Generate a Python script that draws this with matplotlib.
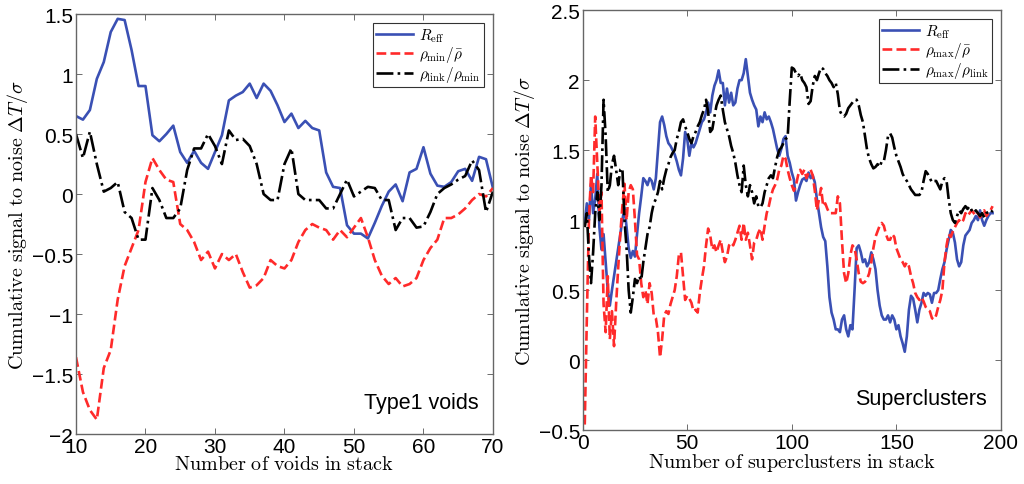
import matplotlib
matplotlib.use("Agg")
import matplotlib.pyplot as plt
from matplotlib.ticker import FuncFormatter
import numpy as np

plt.rcParams['mathtext.fontset'] = 'cm'
plt.rcParams['font.family'] = ['Liberation Sans', 'DejaVu Sans']

# ---- left panel: Type1 voids ----
void_n = list(range(10, 71))
void_reff = [0.65, 0.62, 0.70, 0.96, 1.10, 1.35, 1.46, 1.45, 1.20, 0.90,
             0.90, 0.49, 0.44, 0.50, 0.57, 0.35, 0.26, 0.36, 0.26, 0.21,
             0.35, 0.49, 0.78, 0.82, 0.85, 0.92, 0.80, 0.92, 0.86, 0.74,
             0.60, 0.67, 0.55, 0.61, 0.55, 0.53, 0.18, 0.06, 0.05, -0.26,
             -0.33, -0.33, -0.37, -0.24, -0.10, 0.02, 0.08, -0.06, 0.18, 0.21,
             0.39, 0.17, 0.07, 0.06, 0.10, 0.19, 0.21, 0.11, 0.31, 0.29,
             0.05]
void_rmin = [-1.36, -1.65, -1.80, -1.88, -1.45, -1.30, -0.88, -0.60, -0.45, -0.30,
             0.10, 0.30, 0.20, 0.12, 0.10, -0.25, -0.30, -0.40, -0.55, -0.48,
             -0.62, -0.50, -0.55, -0.50, -0.65, -0.78, -0.76, -0.70, -0.55, -0.60,
             -0.62, -0.55, -0.40, -0.30, -0.25, -0.28, -0.30, -0.38, -0.30, -0.36,
             -0.28, -0.20, -0.36, -0.55, -0.68, -0.75, -0.70, -0.77, -0.75, -0.70,
             -0.55, -0.45, -0.38, -0.20, -0.20, -0.17, -0.12, -0.05, 0.00, -0.02,
             0.05]
void_rlink = [0.50, 0.30, 0.52, 0.25, 0.02, 0.05, 0.10, -0.15, -0.20, -0.38,
              -0.38, 0.05, -0.05, -0.20, -0.20, -0.12, 0.20, 0.38, 0.38, 0.50,
              0.40, 0.25, 0.53, 0.45, 0.46, 0.40, 0.25, 0.00, -0.05, -0.05,
              0.25, 0.38, 0.00, -0.05, -0.05, -0.05, -0.12, -0.12, 0.00, 0.12,
              -0.02, 0.02, 0.06, 0.05, -0.05, -0.05, -0.30, -0.20, -0.20, -0.28,
              -0.27, -0.15, 0.00, 0.05, 0.08, 0.12, 0.15, 0.28, 0.20, -0.15,
              0.02]

# ---- right panel: Superclusters ----
sc_n = list(range(1, 197))
sc_reff = [0.98, 1.12, 1.00, 1.26, 1.05, 1.15, 1.33, 0.95, 0.79, 0.90,
           0.70, 0.50, 0.39, 0.50, 0.60, 0.70, 0.80, 0.90, 1.00, 1.09,
           0.95, 0.80, 0.73, 0.78, 0.74, 0.90, 1.05, 1.17, 1.30, 1.28,
           1.25, 1.30, 1.28, 1.22, 1.30, 1.50, 1.70, 1.74, 1.68, 1.60,
           1.55, 1.53, 1.50, 1.47, 1.42, 1.36, 1.32, 1.44, 1.63, 1.58,
           1.46, 1.55, 1.52, 1.55, 1.60, 1.65, 1.70, 1.72, 1.77, 1.84,
           1.77, 1.89, 1.96, 2.00, 2.07, 1.98, 1.98, 1.82, 1.94, 1.84,
           1.91, 1.82, 1.84, 1.94, 2.00, 2.00, 2.05, 2.15, 2.03, 1.91,
           1.86, 1.82, 1.79, 1.67, 1.74, 1.70, 1.77, 1.72, 1.74, 1.70,
           1.65, 1.58, 1.51, 1.46, 1.51, 1.58, 1.60, 1.46, 1.41, 1.34,
           1.29, 1.14, 1.20, 1.25, 1.29, 1.30, 1.28, 1.34, 1.30, 1.32,
           1.27, 1.15, 1.05, 0.95, 0.88, 0.85, 0.67, 0.45, 0.34, 0.29,
           0.22, 0.22, 0.20, 0.29, 0.32, 0.22, 0.17, 0.25, 0.22, 0.50,
           0.80, 0.82, 0.77, 0.70, 0.72, 0.67, 0.70, 0.77, 0.72, 0.65,
           0.50, 0.39, 0.32, 0.29, 0.29, 0.32, 0.27, 0.32, 0.29, 0.22,
           0.25, 0.17, 0.12, 0.06, 0.17, 0.36, 0.46, 0.44, 0.36, 0.27,
           0.36, 0.41, 0.48, 0.46, 0.48, 0.47, 0.41, 0.48, 0.48, 0.50,
           0.58, 0.65, 0.70, 0.79, 0.86, 0.93, 0.91, 0.84, 0.72, 0.67,
           0.70, 0.82, 0.89, 0.91, 0.93, 0.98, 1.00, 1.03, 1.00, 1.07,
           1.00, 0.96, 1.00, 1.03, 1.05, 1.05]
sc_rmax = [-0.46, 0.30, 1.00, 1.32, 1.20, 1.74, 1.40, 1.07, 1.20, 0.40,
           0.20, 0.60, 0.15, 0.35, 0.10, 0.40, 0.66, 0.90, 1.10, 1.26,
           1.00, 1.20, 1.25, 1.22, 1.00, 0.75, 0.72, 0.55, 0.45, 0.50,
           0.40, 0.55, 0.48, 0.32, 0.30, 0.20, 0.02, 0.15, 0.32, 0.35,
           0.33, 0.40, 0.45, 0.50, 0.60, 0.75, 0.77, 0.60, 0.43, 0.46,
           0.44, 0.41, 0.35, 0.36, 0.34, 0.48, 0.58, 0.67, 0.82, 0.94,
           0.89, 0.79, 0.82, 0.77, 0.82, 0.86, 0.77, 0.70, 0.74, 0.82,
           0.84, 0.82, 0.86, 0.91, 0.96, 0.86, 0.98, 0.86, 0.91, 0.82,
           0.72, 0.84, 0.86, 0.91, 0.94, 0.86, 0.96, 1.05, 1.10, 1.17,
           1.22, 1.25, 1.29, 1.36, 1.39, 1.46, 1.44, 1.36, 1.30, 1.25,
           1.21, 1.25, 1.32, 1.36, 1.33, 1.36, 1.30, 1.34, 1.36, 1.32,
           1.21, 1.07, 1.15, 1.23, 1.10, 1.12, 1.08, 1.05, 1.05, 1.05,
           1.05, 1.17, 1.12, 0.85, 0.62, 0.55, 0.62, 0.75, 0.82, 0.80,
           0.72, 0.62, 0.56, 0.55, 0.56, 0.58, 0.62, 0.70, 0.80, 0.88,
           0.92, 0.96, 0.98, 0.96, 0.90, 0.86, 0.86, 0.90, 0.88, 0.80,
           0.76, 0.72, 0.70, 0.67, 0.70, 0.67, 0.60, 0.55, 0.48, 0.45,
           0.43, 0.45, 0.42, 0.38, 0.36, 0.35, 0.30, 0.29, 0.32, 0.38,
           0.43, 0.50, 0.70, 0.82, 0.90, 0.88, 0.92, 0.95, 0.98, 1.00,
           0.98, 1.00, 1.05, 1.03, 1.05, 1.07, 1.05, 1.03, 1.05, 1.02,
           1.05, 1.07, 1.03, 1.05, 1.07, 1.10]
sc_rlink = [0.95, 1.05, 0.75, 0.55, 0.77, 1.05, 1.20, 1.00, 1.25, 1.86,
            1.60, 1.20, 1.25, 1.40, 1.46, 1.36, 1.25, 1.36, 1.37, 1.00,
            0.80, 0.50, 0.34, 0.45, 0.58, 0.55, 0.60, 0.57, 0.70, 0.80,
            0.90, 0.95, 1.05, 1.12, 1.15, 1.20, 1.28, 1.22, 1.30, 1.36,
            1.40, 1.45, 1.48, 1.50, 1.58, 1.63, 1.70, 1.72, 1.67, 1.63,
            1.58, 1.55, 1.60, 1.63, 1.67, 1.70, 1.75, 1.79, 1.86, 1.77,
            1.63, 1.65, 1.74, 1.82, 1.86, 1.89, 1.79, 1.70, 1.65, 1.60,
            1.53, 1.48, 1.41, 1.32, 1.25, 1.20, 1.39, 1.25, 1.17, 1.25,
            1.20, 1.12, 1.17, 1.10, 1.09, 1.12, 1.20, 1.25, 1.30, 1.32,
            1.30, 1.38, 1.45, 1.50, 1.52, 1.55, 1.58, 1.59, 1.85, 2.09,
            2.08, 2.05, 2.03, 2.05, 2.00, 1.98, 1.95, 1.83, 1.85, 1.96,
            2.03, 2.00, 2.05, 2.09, 2.08, 2.05, 2.03, 2.00, 1.98, 1.95,
            1.98, 1.90, 1.78, 1.75, 1.74, 1.76, 1.80, 1.82, 1.84, 1.86,
            1.86, 1.82, 1.75, 1.70, 1.60, 1.50, 1.44, 1.40, 1.37, 1.38,
            1.40, 1.38, 1.42, 1.42, 1.50, 1.60, 1.62, 1.59, 1.52, 1.46,
            1.42, 1.38, 1.33, 1.30, 1.28, 1.25, 1.22, 1.20, 1.18, 1.18,
            1.18, 1.20, 1.28, 1.35, 1.33, 1.30, 1.27, 1.28, 1.28, 1.25,
            1.22, 1.28, 1.30, 1.28, 1.15, 1.05, 1.00, 0.98, 1.03, 1.07,
            1.05, 1.08, 1.10, 1.08, 1.10, 1.07, 1.05, 1.07, 1.05, 1.03,
            1.05, 1.02, 1.05, 1.06, 1.05, 1.07]

BLUE = '#3a50b4'
RED = '#ff2a2a'
serif_kw = dict(fontsize=14.5)


def fmt(v, pos):
    s = '%g' % v
    return s.replace('-', '\u2212')


def style_axes(ax, xlim, ylim, xticks, yticks, xlabel, tag):
    ax.set_xlim(*xlim)
    ax.set_ylim(*ylim)
    ax.set_xticks(xticks)
    ax.set_yticks(yticks)
    ax.xaxis.set_major_formatter(FuncFormatter(fmt))
    ax.yaxis.set_major_formatter(FuncFormatter(fmt))
    ax.tick_params(direction='in', top=True, right=True, length=4,
                   width=0.6, color='#555555', labelsize=15, pad=2)
    for s in ax.spines.values():
        s.set_color('#666666')
        s.set_linewidth(1.0)
    ax.set_xlabel(xlabel, labelpad=-1, **serif_kw)
    ax.set_ylabel(r'$\mathrm{Cumulative\ signal\ to\ noise}\ \Delta T/\sigma$',
                  labelpad=1, **serif_kw)
    ax.text(0.965, 0.05, tag, transform=ax.transAxes, ha='right', va='bottom',
            fontsize=15.5)
    leg = ax.legend(loc='upper right', fontsize=11, frameon=True, fancybox=False,
                    borderpad=0.2, labelspacing=0.0, handlelength=2.4,
                    handletextpad=0.4, borderaxespad=0.6)
    leg.get_frame().set_edgecolor('black')
    leg.get_frame().set_linewidth(0.8)


fig = plt.figure(figsize=(10.24, 4.85), dpi=100)
ax1 = fig.add_axes([0.0742, 0.103, 0.4072, 0.866])
ax2 = fig.add_axes([0.569, 0.111, 0.4085, 0.866])

ax1.plot(void_n, void_reff, '-', color=BLUE, lw=1.9, label=r'$R_{\mathrm{eff}}$')
ax1.plot(void_n, void_rmin, '--', color=RED, lw=1.9,
         label=r'$\rho_{\mathrm{min}}/\bar{\rho}$')
ax1.plot(void_n, void_rlink, '-.', color='black', lw=1.9,
         label=r'$\rho_{\mathrm{link}}/\rho_{\mathrm{min}}$')
style_axes(ax1, (10, 70), (-2, 1.5), np.arange(10, 71, 10),
           np.arange(-2, 1.51, 0.5),
           r'$\mathrm{Number\ of\ voids\ in\ stack}$', 'Type1 voids')

ax2.plot(sc_n, sc_reff, '-', color=BLUE, lw=1.9, label=r'$R_{\mathrm{eff}}$')
ax2.plot(sc_n, sc_rmax, '--', color=RED, lw=1.9,
         label=r'$\rho_{\mathrm{max}}/\bar{\rho}$')
ax2.plot(sc_n, sc_rlink, '-.', color='black', lw=1.9,
         label=r'$\rho_{\mathrm{max}}/\rho_{\mathrm{link}}$')
style_axes(ax2, (0, 200), (-0.5, 2.5), np.arange(0, 201, 50),
           np.arange(-0.5, 2.51, 0.5),
           r'$\mathrm{Number\ of\ superclusters\ in\ stack}$', 'Superclusters')

fig.savefig('out.png', dpi=100)
